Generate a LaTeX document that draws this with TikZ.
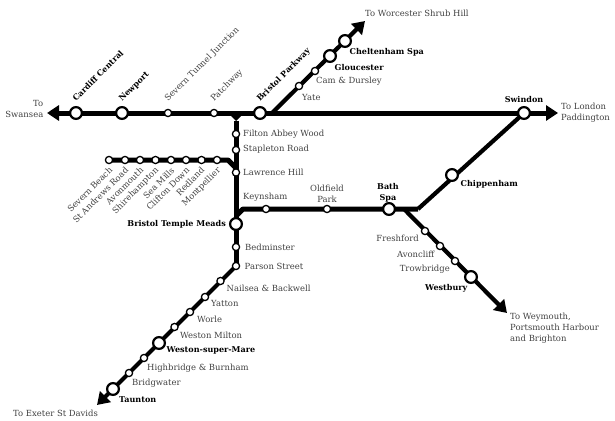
\documentclass[tikz,border=0pt]{standalone}
\usepackage{fontspec}
\setmainfont{DejaVu Serif}
\usetikzlibrary{arrows.meta}
\definecolor{labelgrey}{HTML}{404040}
\tikzset{
  bigstn/.style={circle,draw=black,fill=white,line width=2.2pt,minimum size=11.8pt,inner sep=0pt},
  smallstn/.style={circle,draw=black,fill=white,line width=1.3pt,minimum size=7.2pt,inner sep=0pt},
  thick line/.style={line width=5pt,line join=round},
  thin line/.style={line width=4.2pt,line join=round},
  tip/.style={-{Triangle[length=12pt,width=15pt]}},
  lbl/.style={font=\fontsize{8.45}{10.9}\selectfont,text=labelgrey,inner sep=0pt},
  blbl/.style={font=\fontsize{8.05}{10.9}\selectfont\bfseries,text=black,inner sep=0pt},
}
\begin{document}
\begin{tikzpicture}[x=1pt,y=-1pt]
\useasboundingbox (0,0) rectangle (615,420);
% free ends
\coordinate (swansea) at (47,113);
\coordinate (london) at (558,113);
\coordinate (worcester) at (365,21);
\coordinate (exeter) at (97,405);
\coordinate (weymouth) at (507,313);
\coordinate (jw) at (272,113);
\coordinate (ja) at (228,113);
\coordinate (jb) at (244,113);
\coordinate (jc) at (236,121);
\coordinate (bk) at (228,160);
\coordinate (bj) at (236,168);
\coordinate (kk) at (243,209);
\coordinate (kj) at (236,216);
\coordinate (bathj) at (418,209);
\coordinate (westj) at (404,209);
% stations
\path
 (76,113) coordinate (cardiff) (122,113) coordinate (newport) (168,113) coordinate (severn)
 (214,113) coordinate (patchway) (260,113) coordinate (parkway) (524,113) coordinate (swindon)
 (299,86) coordinate (yate) (315,71) coordinate (cam) (330,56) coordinate (gloucester) (345,41) coordinate (cheltenham)
 (236,134) coordinate (filton) (236,150) coordinate (stapleton) (236,172.5) coordinate (lawrence)
 (236,224) coordinate (temple) (236,247) coordinate (bedminster) (236,266) coordinate (parson)
 (109,160) coordinate (sbeach) (125,160) coordinate (sandrews) (140,160) coordinate (avon) (155.5,160) coordinate (shire)
 (171,160) coordinate (seamills) (186,160) coordinate (clifton) (201.5,160) coordinate (redland) (217,160) coordinate (montp)
 (266,209) coordinate (keyn) (327,209) coordinate (oldf) (389,209) coordinate (bath) (452,175) coordinate (chip)
 (425,231) coordinate (fresh) (440,246) coordinate (avonc) (455,261) coordinate (trow) (471,277) coordinate (westb)
 (220.5,281) coordinate (nail) (205,297) coordinate (yatton) (190,312) coordinate (worle) (174.5,327) coordinate (wmilton)
 (159,343) coordinate (wsm) (144,358) coordinate (high) (129,373) coordinate (bridg) (113,389) coordinate (taunton);
\draw[thick line,tip] (swindon) -- (london);
\draw[thick line,tip] (parkway) -- (swansea);
\draw[thick line] (parkway) -- (swindon);
\fill (ja) -- (jb) -- (jc) -- cycle;
\draw[thin line,tip] (jw) -- (worcester);
\draw[thick line] (jc) -- (temple);
\draw[thick line] (temple) -- (parson);
\draw[thick line] (sbeach) -- (bk) -- (bj);
\draw[thick line] (kj) -- (kk) -- (bathj);
\draw[thin line] (bathj) -- (swindon);
\draw[thin line,tip] (westj) -- (weymouth);
\draw[thin line,tip] (parson) -- (exeter);
% station circles
\foreach \p in {cardiff,newport,parkway,swindon,gloucester,cheltenham,temple,bath,chip,westb,wsm,taunton}
  \node[bigstn] (n\p) at (\p) {};
\foreach \p in {severn,patchway,yate,cam,filton,stapleton,lawrence,bedminster,parson,sbeach,sandrews,avon,shire,seamills,clifton,redland,montp,keyn,oldf,fresh,avonc,trow,nail,yatton,worle,wmilton,high,bridg}
  \node[smallstn] (n\p) at (\p) {};
% rotated labels
\node[blbl,rotate=45,anchor=base west] (l1) at (76,102) {Cardiff Central};
\node[blbl,rotate=45,anchor=base west] (l2) at (122,102) {Newport};
\node[lbl,rotate=45,anchor=base west] (l3) at (168,102) {Severn Tunnel Junction};
\node[lbl,rotate=45,anchor=base west] (l4) at (214,102) {Patchway};
\node[blbl,rotate=45,anchor=base west] (l5) at (260,102) {Bristol Parkway};
\foreach \x/\t/\k in {113/Severn Beach/a,129/St Andrews Road/b,144/Avonmouth/c,159/Shirehampton/d,175/Sea Mills/e,190/Clifton Down/f,205/Redland/g,221/Montpellier/h}
  \node[lbl,rotate=45,anchor=base east] (lb\k) at (\x,171) {\t};
% horizontal labels
\node[lbl,align=right,anchor=east] (t1) at (43.5,109) {To\\Swansea};
\node[lbl,align=left,anchor=west] (t2) at (561,113) {To London\\Paddington};
\node[lbl,anchor=west] (t3) at (365,13) {To Worcester Shrub Hill};
\node[lbl,anchor=west] (t4) at (13,413.5) {To Exeter St Davids};
\node[lbl,align=left,anchor=north west] (t5) at (510,313) {To Weymouth,\\Portsmouth Harbour\\and Brighton};
\node[lbl,anchor=west] (s1) at (302,97.5) {Yate};
\node[lbl,anchor=west] (s2) at (316,81.5) {Cam \& Dursley};
\node[blbl,anchor=west] (s3) at (334.5,67.5) {Gloucester};
\node[blbl,anchor=west] (s4) at (349.5,52) {Cheltenham Spa};
\node[blbl,anchor=south] (s5) at (524,102.5) {Swindon};
\node[lbl,anchor=west] (s6) at (243,134) {Filton Abbey Wood};
\node[lbl,anchor=west] (s7) at (243,149.5) {Stapleton Road};
\node[lbl,anchor=west] (s8) at (243,172.5) {Lawrence Hill};
\node[lbl,anchor=west] (s9) at (243,197) {Keynsham};
\node[lbl,align=center,anchor=south] (s10) at (327,202.5) {Oldfield\\Park};
\node[blbl,align=center,anchor=south] (s11) at (388,202.5) {Bath\\Spa};
\node[blbl,anchor=west] (s12) at (460.5,184.5) {Chippenham};
\node[blbl,anchor=east] (s13) at (226,224) {Bristol Temple Meads};
\node[lbl,anchor=west] (s14) at (245,247.5) {Bedminster};
\node[lbl,anchor=west] (s15) at (244.5,266.5) {Parson Street};
\node[lbl,anchor=west] (s16) at (226.5,288.5) {Nailsea \& Backwell};
\node[lbl,anchor=west] (s17) at (211,303.5) {Yatton};
\node[lbl,anchor=west] (s18) at (197,319) {Worle};
\node[lbl,anchor=west] (s19) at (180,335) {Weston Milton};
\node[blbl,anchor=west] (s20) at (166.5,350.5) {Weston-super-Mare};
\node[lbl,anchor=west] (s21) at (147,368) {Highbridge \& Burnham};
\node[lbl,anchor=west] (s22) at (132,383) {Bridgwater};
\node[blbl,anchor=west] (s23) at (119,400) {Taunton};
\node[lbl,anchor=east] (s24) at (419,238.5) {Freshford};
\node[lbl,anchor=east] (s25) at (434.5,254.5) {Avoncliff};
\node[lbl,anchor=east] (s26) at (450,269.5) {Trowbridge};
\node[blbl,anchor=east] (s27) at (467.5,288.5) {Westbury};
\end{tikzpicture}
\end{document}
